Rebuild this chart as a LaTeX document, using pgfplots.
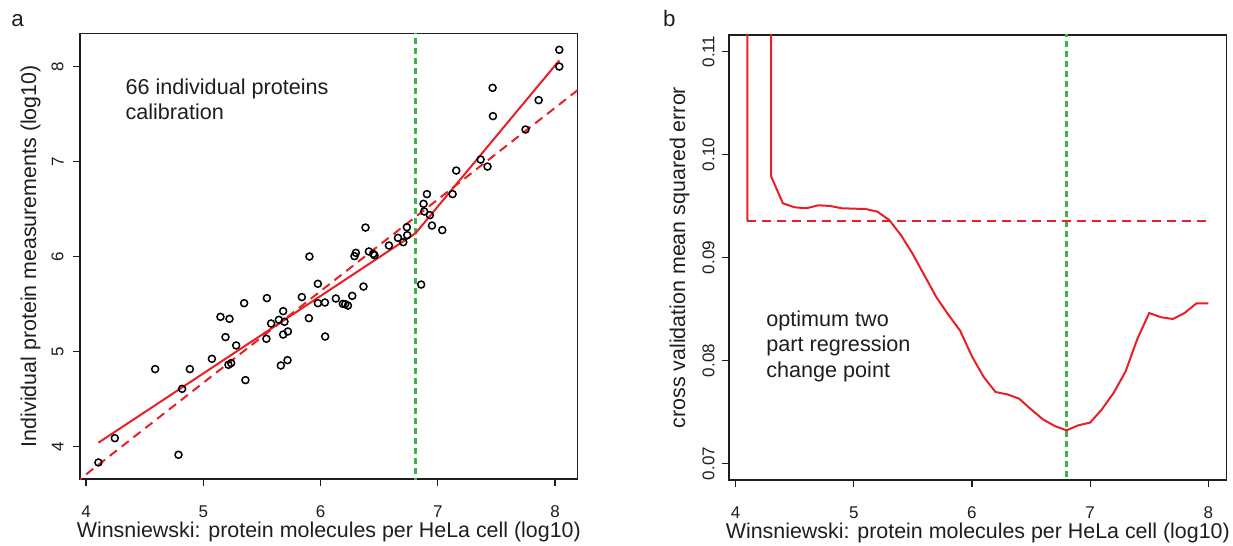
\documentclass[border=0pt]{standalone}
\usepackage{pgfplots}
\pgfplotsset{compat=1.18}
\usepackage{fontspec}
\setmainfont{Liberation Sans}
\definecolor{fitred}{RGB}{232,32,38}
\definecolor{cpgreen}{RGB}{60,180,75}
\definecolor{ink}{RGB}{30,30,30}

\pgfplotsset{
  rstyle/.style={
    scale only axis,
    width=248.85pt,
    axis line style={ink, line width=0.6pt},
    tick style={ink, line width=0.6pt},
    tick align=outside,
    major tick length=3.5pt,
    tick pos=left,
    ticklabel style={font=\fontsize{8.5}{10}\selectfont, text=ink, inner sep=0pt},
    /pgf/number format/assume math mode=true,
    xticklabel style={anchor=north, yshift=-9.5pt},
    yticklabel style={rotate=90, anchor=south},
    label style={font=\fontsize{10.7}{12}\selectfont, text=ink, inner sep=0pt},
    xlabel style={at={([yshift=-29.3pt]axis description cs:0.5,0)}, anchor=base},
    ylabel style={at={([xshift=-22pt]axis description cs:0,0.5)}, anchor=base, rotate=0},
  }
}

\begin{document}
\begin{tikzpicture}
\path[use as bounding box] (0,0) rectangle (616.5pt,-273pt);
\node[anchor=base west, inner sep=0pt, font=\fontsize{11.2}{13}\selectfont, text=ink] at (5.5pt,-13.3pt) {a};
\node[anchor=base west, inner sep=0pt, font=\fontsize{11.2}{13}\selectfont, text=ink] at (331.3pt,-13.3pt) {b};

% panel a
\begin{axis}[rstyle,
  at={(40pt,-239.5pt)}, anchor=south west,
  height=222.85pt,
  xmin=3.948, xmax=8.193, ymin=3.658, ymax=8.350,
  xtick={4,5,6,7,8}, ytick={4,5,6,7,8},
  yticklabel shift=4.5pt,
  xlabel={Winsniewski: protein molecules per HeLa cell (log10)},
  ylabel={Individual protein measurements (log10)},
]
% change point
\addplot[cpgreen, no marks, line width=1.1pt, dash pattern=on 3pt off 2pt] coordinates {(6.81,3.5) (6.81,8.5)};
\addplot[only marks, mark=o, mark size=1.75pt, mark options={line width=0.75pt, draw=black}]
coordinates {
(8.036,8.176) (8.036,8.000) (7.467,7.776) (7.470,7.478) (7.860,7.646)
(7.748,7.337) (7.365,7.021) (7.424,6.947) (7.157,6.905) (7.126,6.657)
(6.907,6.657) (6.878,6.555) (6.884,6.474) (6.932,6.436) (6.950,6.326)
(7.038,6.278) (6.736,6.309) (6.739,6.225) (6.705,6.151) (6.660,6.197)
(6.583,6.116) (6.383,6.305) (6.412,6.053) (6.449,6.028) (6.460,6.014)
(6.301,6.039) (6.289,6.004) (5.905,6.000) (5.977,5.713) (5.840,5.573)
(5.900,5.351) (5.977,5.509) (6.037,5.516) (6.039,5.158) (6.130,5.558)
(6.190,5.502) (6.210,5.499) (6.233,5.484) (6.270,5.586) (6.366,5.684)
(6.858,5.705) (5.542,5.562) (5.348,5.509) (5.146,5.365) (5.223,5.344)
(5.189,5.152) (5.280,5.064) (5.073,4.923) (5.214,4.860) (5.237,4.878)
(5.359,4.699) (5.578,5.295) (5.644,5.334) (5.681,5.425) (5.692,5.313)
(5.538,5.134) (5.681,5.179) (5.721,5.211) (5.661,4.853) (5.718,4.909)
(4.589,4.815) (4.885,4.815) (4.819,4.607) (4.245,4.088) (4.105,3.832)
(4.788,3.913)
};
% single straight fit
\addplot[fitred, no marks, line width=1pt, dash pattern=on 4.5pt off 3pt] coordinates {(3.9,3.610) (8.25,7.807)};
% two part fit
\addplot[fitred, no marks, line width=1pt] coordinates {(4.105,4.040) (6.81,6.245) (8.036,8.065)};
\node[anchor=base west, inner sep=0pt, font=\fontsize{10.8}{12}\selectfont, text=ink] at (axis cs:4.333,7.702) {66 individual proteins};
\node[anchor=base west, inner sep=0pt, font=\fontsize{10.8}{12}\selectfont, text=ink] at (axis cs:4.333,7.446) {calibration};
\end{axis}

% panel b
\begin{axis}[rstyle,
  at={(364.5pt,-240pt)}, anchor=south west,
  height=222.5pt,
  xmin=3.944, xmax=8.156, ymin=0.0684, ymax=0.1116,
  xtick={4,5,6,7,8}, ytick={0.07,0.08,0.09,0.10,0.11},
  yticklabel style={/pgf/number format/.cd, fixed, fixed zerofill, precision=2},
  yticklabel shift=3.5pt,
  scaled y ticks=false,
  xlabel={Winsniewski: protein molecules per HeLa cell (log10)},
  ylabel={cross validation mean squared error},
]
\addplot[cpgreen, no marks, line width=1.1pt, dash pattern=on 3pt off 2pt] coordinates {(6.8,0.06) (6.8,0.12)};
\addplot[fitred, no marks, line width=1pt, dash pattern=on 4.5pt off 3pt] coordinates {(4.1,0.09355) (8.0,0.09355)};
% cross validation error; values at 4.1-4.3 run far above the plotted range
\addplot[fitred, no marks, line width=1pt] coordinates {
(4.1,0.09355) (4.1,0.2) (4.3,0.2) (4.3,0.0979) (4.4,0.09526) (4.5,0.09487) (4.6,0.09478)
(4.7,0.09507) (4.8,0.09500) (4.9,0.09478) (5.0,0.09474) (5.1,0.09471)
(5.2,0.09445) (5.3,0.09364) (5.4,0.09216) (5.5,0.09032) (5.6,0.08822)
(5.7,0.08613) (5.8,0.08445) (5.9,0.0829) (6.0,0.0804) (6.1,0.07839)
(6.2,0.07694) (6.3,0.07671) (6.4,0.07629) (6.5,0.07526) (6.6,0.07429)
(6.7,0.07365) (6.8,0.07322) (6.9,0.07371) (7.0,0.07397) (7.1,0.07526)
(7.2,0.07687) (7.3,0.07893) (7.4,0.0821) (7.5,0.08461) (7.6,0.0842)
(7.7,0.08403) (7.8,0.08461) (7.9,0.08555) (8.0,0.08555)
};
\node[anchor=base west, inner sep=0pt, font=\fontsize{10.8}{12}\selectfont, text=ink] at (axis cs:4.257,0.08335) {optimum two};
\node[anchor=base west, inner sep=0pt, font=\fontsize{10.8}{12}\selectfont, text=ink] at (axis cs:4.257,0.08086) {part regression};
\node[anchor=base west, inner sep=0pt, font=\fontsize{10.8}{12}\selectfont, text=ink] at (axis cs:4.257,0.07833) {change point};
\end{axis}
\end{tikzpicture}
\end{document}
